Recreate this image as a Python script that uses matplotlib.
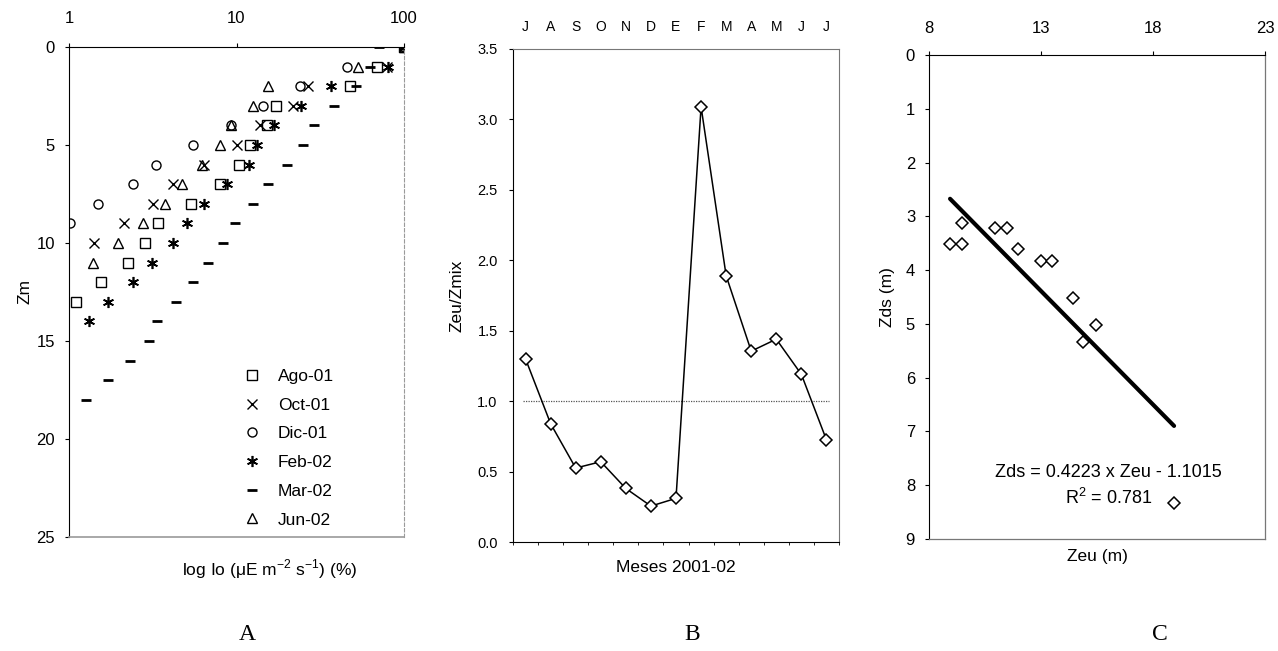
import numpy as np
import matplotlib
matplotlib.use("Agg")
import matplotlib.pyplot as plt

plt.rcParams['font.family'] = ['Liberation Sans', 'DejaVu Sans']

# ---------------- Panel A data: light (% of surface) vs depth ----------------
ago_depth = [0, 1, 2, 3, 4, 5, 6, 7, 8, 9, 10, 11, 12, 13]
ago_light = [100, 69, 47.5, 17.3, 15.2, 12.0, 10.4, 8.0, 5.37, 3.42, 2.85, 2.26, 1.55, 1.10]
oct_depth = [0, 1, 2, 3, 4, 5, 6, 7, 8, 9, 10]
oct_light = [100, 79, 26.8, 21.7, 13.9, 10.1, 6.4, 4.17, 3.19, 2.14, 1.41]
dic_depth = [0, 1, 2, 3, 4, 5, 6, 7, 8, 9]
dic_light = [100, 45.7, 23.9, 14.4, 9.3, 5.49, 3.30, 2.40, 1.50, 1.02]
feb_depth = [0, 1, 2, 3, 4, 5, 6, 7, 8, 9, 10, 11, 12, 13, 14]
feb_light = [100, 80, 36.9, 24.4, 16.7, 13.3, 11.8, 8.77, 6.42, 5.06, 4.17, 3.15, 2.40, 1.72, 1.31]
mar_depth = [0, 1, 2, 3, 4, 5, 6, 7, 8, 9, 10, 11, 12, 13, 14, 15, 16, 17, 18]
mar_light = [71, 63, 51.4, 38.1, 29.2, 25.0, 20.0, 15.4, 12.6, 9.84, 8.3, 6.8, 5.49, 4.35,
             3.35, 3.02, 2.32, 1.72, 1.26]
jun_depth = [0, 1, 2, 3, 4, 5, 6, 7, 8, 9, 10, 11]
jun_light = [100, 53, 15.4, 12.6, 9.3, 8.0, 6.2, 4.7, 3.72, 2.76, 1.97, 1.40]
series_labels = ['Ago-01', 'Oct-01', 'Dic-01', 'Feb-02', 'Mar-02', 'Jun-02']

# ---------------- Panel B data: Zeu/Zmix by month ----------------
month_labels = ['J', 'A', 'S', 'O', 'N', 'D', 'E', 'F', 'M', 'A', 'M', 'J', 'J']
zeu_zmix = [1.30, 0.84, 0.525, 0.57, 0.38, 0.255, 0.31, 3.09, 1.89, 1.355, 1.44, 1.19, 0.725]

# ---------------- Panel C data: Zds vs Zeu ----------------
zeu = [8.94, 9.46, 9.46, 10.95, 11.46, 11.96, 12.98, 13.48, 14.44, 15.45, 14.89, 18.94]
zds = [3.51, 3.51, 3.12, 3.22, 3.22, 3.61, 3.83, 3.83, 4.52, 5.02, 5.33, 8.33]
reg_slope = 0.4223
reg_intercept = -1.1015

fig = plt.figure(figsize=(12.78, 6.51), dpi=100)
W, H = 1278, 651

def ax_at(l, t, r, b):
    return fig.add_axes([l / W, 1 - b / H, (r - l) / W, (b - t) / H])

TICK_AC = 12
TICK_B = 10.5
LFS = 12.5
GREY = '#9a9a9a'

# ================= Panel A =================
axA = ax_at(69, 47, 404, 537)
mk = dict(linestyle='none', color='black')
axA.plot(ago_light, ago_depth, marker='s', mfc='none', mew=1.0, ms=6.5, label=series_labels[0], **mk)
axA.plot(oct_light, oct_depth, marker='x', mew=1.0, ms=7, label=series_labels[1], **mk)
axA.plot(dic_light, dic_depth, marker='o', mfc='none', mew=1.0, ms=6.5, label=series_labels[2], **mk)
axA.plot(feb_light, feb_depth, marker=(6, 2, 0), mew=1.2, ms=8, label=series_labels[3], **mk)
axA.plot(mar_light, mar_depth, marker='_', mew=2.0, ms=7, label=series_labels[4], **mk)
axA.plot(jun_light, jun_depth, marker='^', mfc='none', mew=1.0, ms=6.5, label=series_labels[5], **mk)
axA.set_xscale('log')
axA.set_xlim(1, 100)
axA.set_ylim(25, 0)
axA.xaxis.tick_top()
axA.set_xticks([1, 10, 100])
axA.set_xticklabels(['1', '10', '100'])
axA.minorticks_off()
axA.set_yticks([0, 5, 10, 15, 20, 25])
axA.tick_params(axis='both', labelsize=TICK_AC, length=3, width=0.8, direction='out')
axA.tick_params(axis='x', pad=12)
axA.tick_params(axis='y', pad=7)
axA.set_ylabel('Zm', fontsize=LFS, labelpad=3)
axA.text(0.6, -0.065, 'log Io (\u03bcE m$^{\\mathregular{-2}}$ s$^{\\mathregular{-1}}$) (%)',
         transform=axA.transAxes, ha='center', va='center', fontsize=LFS)
axA.spines['right'].set_color(GREY)
axA.spines['right'].set_linestyle((0, (3, 2)))
axA.spines['right'].set_linewidth(0.8)
axA.spines['bottom'].set_color(GREY)
axA.spines['bottom'].set_linewidth(1.2)
leg = axA.legend(loc='upper left', bbox_to_anchor=(0.52, 0.343), frameon=False,
                 fontsize=LFS, handlelength=1.0, handletextpad=1.0, labelspacing=0.78,
                 borderpad=0, borderaxespad=0)

# ================= Panel B =================
axB = ax_at(513, 49, 839, 542)
months_x = np.arange(len(zeu_zmix))
axB.plot(months_x, zeu_zmix, color='black', lw=1.1, marker='D', mfc='white',
         mec='black', mew=1.1, markersize=6.5, zorder=3)
axB.axhline(1.0, xmin=0.03, xmax=0.97, color='#555555', lw=0.9, linestyle=(0, (1, 1)))
axB.set_xlim(-0.5, len(zeu_zmix) - 0.5)
axB.set_ylim(0, 3.5)
yt = np.arange(0, 3.51, 0.5)
axB.set_yticks(yt)
axB.set_yticklabels([f'{v:.1f}' for v in yt])
secB = axB.secondary_xaxis('top')
secB.set_xticks(months_x)
secB.set_xticklabels(month_labels)
secB.tick_params(length=0, labelsize=10, pad=11)
secB.spines['top'].set_visible(False)
axB.set_xticks(np.arange(-0.5, len(zeu_zmix), 1.0))
axB.set_xticklabels([])
axB.tick_params(axis='x', length=2.5, width=0.6, direction='out')
axB.tick_params(axis='y', labelsize=TICK_B, length=3, width=0.8, direction='out', pad=8)
axB.set_ylabel('Zeu/Zmix', fontsize=LFS, labelpad=9)
axB.set_xlabel('Meses 2001-02', fontsize=LFS, labelpad=7)
for s in ['top', 'right']:
    axB.spines[s].set_color('#777777')
    axB.spines[s].set_linewidth(0.8)

# ================= Panel C =================
axC = ax_at(929, 55, 1265, 539)
axC.plot(zeu, zds, linestyle='none', marker='D', mfc='white', mec='black', mew=1.1,
         markersize=6.5, zorder=3)
xr = np.array([min(zeu), max(zeu)])
axC.plot(xr, reg_slope * xr + reg_intercept, color='black', lw=3.0, solid_capstyle='round')
axC.set_xlim(8, 23)
axC.set_ylim(9, 0)
axC.xaxis.tick_top()
axC.set_xticks([8, 13, 18, 23])
axC.set_yticks(range(0, 10))
axC.tick_params(axis='both', labelsize=TICK_AC, length=3, width=0.8, direction='out')
axC.tick_params(axis='x', pad=11)
axC.tick_params(axis='y', pad=7)
axC.set_ylabel('Zds (m)', fontsize=LFS, labelpad=8)
axC.set_xlabel('Zeu (m)', fontsize=LFS, labelpad=7)
axC.text(16.0, 7.77, 'Zds = 0.4223 x Zeu - 1.1015', ha='center', va='center', fontsize=13)
axC.text(16.0, 8.23, 'R$^{\\mathregular{2}}$ = 0.781', ha='center', va='center', fontsize=13)
for s in ['right', 'bottom']:
    axC.spines[s].set_color('#777777')
    axC.spines[s].set_linewidth(0.9)

# ================= Panel letters =================
for xpix, letter in [(247, 'A'), (692, 'B'), (1160, 'C')]:
    fig.text(xpix / W, 1 - 635 / H, letter, ha='center', va='center',
             fontsize=17, family='Liberation Serif')

fig.savefig('out.png', dpi=100)
